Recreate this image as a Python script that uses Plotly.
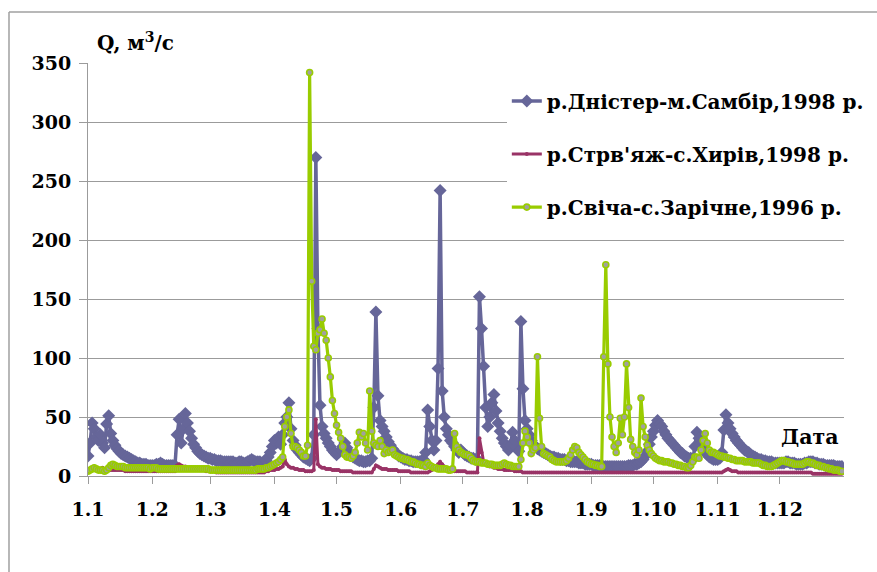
import plotly.graph_objects as go

# ---------------- data ----------------
MONTH_LABELS = ["1.1", "1.2", "1.3", "1.4", "1.5", "1.6",
                "1.7", "1.8", "1.9", "1.10", "1.11", "1.12"]
MONTH_START_DAY = [0, 31, 59, 90, 120, 151, 181, 212, 243, 273, 304, 334]
Y_TICKS = [0, 50, 100, 150, 200, 250, 300, 350]

NAME_DNISTER = "р.Дністер-м.Самбір,1998 р."
NAME_STRVIAZH = "р.Стрв'яж-с.Хирів,1998 р."
NAME_SVICHA = "р.Свіча-с.Зарічне,1996 р."

# daily discharge, m3/s (Jan 1 .. Dec 31)
Q_DNISTER = [
    17, 28, 45, 40, 33, 30, 35, 28, 24, 44, 51, 36, 30, 26, 23, 21, 19, 18, 17, 16, 15, 14, 13, 12, 11, 11, 10, 10, 10, 9, 9,
    9, 9, 10, 10, 11, 10, 9, 9, 9, 9, 9, 9, 35, 48, 28, 40, 53, 45, 38, 32, 27, 24, 21, 19, 18, 17, 16, 15,
    15, 14, 14, 13, 13, 13, 12, 12, 12, 12, 12, 12, 11, 11, 12, 12, 11, 11, 12, 13, 14, 13, 12, 12, 12, 11, 12, 13, 16, 20, 25,
    30, 28, 33, 27, 35, 45, 50, 62, 40, 30, 26, 22, 20, 18, 16, 15, 14, 13, 15, 35, 270, 125, 60, 42, 36, 32, 28, 25, 22, 20,
    18, 20, 22, 25, 28, 24, 20, 18, 16, 15, 14, 13, 13, 12, 12, 13, 13, 15, 58, 139, 68, 47, 42, 38, 33, 29, 26, 23, 21, 19, 17,
    16, 15, 14, 14, 13, 13, 12, 12, 12, 12, 13, 14, 20, 56, 42, 30, 22, 30, 91, 242, 72, 50, 40, 35, 30, 28, 25, 22, 20, 22,
    20, 18, 17, 16, 15, 15, 14, 14, 152, 125, 93, 58, 42, 50, 62, 69, 55, 45, 38, 32, 28, 25, 22, 26, 37, 30, 24, 21, 131, 74, 47,
    40, 35, 30, 27, 25, 23, 22, 21, 20, 19, 18, 17, 16, 16, 15, 15, 14, 14, 14, 13, 13, 12, 12, 12, 12, 11, 11, 11, 10, 10, 10,
    10, 9, 9, 9, 9, 8, 8, 8, 8, 8, 8, 8, 8, 8, 8, 8, 8, 8, 9, 9, 9, 10, 10, 11, 12, 14, 17, 21, 27, 33,
    38, 43, 47, 44, 42, 38, 35, 32, 30, 28, 26, 24, 22, 20, 19, 17, 16, 15, 15, 14, 25, 37, 32, 27, 23, 20, 18, 16, 15, 14, 14,
    14, 15, 20, 39, 52, 45, 40, 36, 33, 30, 28, 26, 24, 22, 21, 20, 18, 17, 16, 15, 14, 14, 13, 13, 12, 12, 12, 11, 11, 11,
    11, 11, 11, 12, 12, 11, 11, 11, 10, 10, 10, 10, 11, 11, 12, 12, 12, 11, 11, 10, 10, 10, 9, 9, 9, 9, 9, 8, 8, 8, 8,
]

Q_STRVIAZH = [
    5, 6, 7, 8, 7, 6, 6, 7, 6, 6, 6, 5, 5, 5, 5, 5, 5, 5, 4, 4, 4, 4, 4, 4, 4, 4, 4, 4, 4, 4, 4,
    4, 4, 4, 4, 4, 4, 4, 4, 4, 4, 4, 4, 9, 10, 9, 8, 8, 7, 7, 6, 6, 6, 5, 5, 5, 5, 4, 4,
    4, 4, 4, 3, 3, 3, 3, 3, 3, 3, 3, 3, 3, 3, 3, 3, 3, 3, 3, 3, 3, 3, 3, 3, 3, 3, 3, 4, 4, 5, 5,
    5, 6, 6, 7, 8, 14, 10, 8, 7, 7, 6, 6, 5, 5, 5, 4, 4, 4, 4, 5, 48, 10, 8, 7, 7, 6, 6, 6, 5, 5,
    5, 5, 4, 4, 4, 4, 4, 4, 3, 3, 3, 3, 3, 3, 3, 3, 3, 3, 6, 9, 8, 7, 6, 6, 6, 5, 5, 5, 5, 5, 4,
    4, 4, 4, 4, 4, 3, 3, 3, 3, 3, 3, 3, 3, 3, 4, 5, 6, 8, 10, 12, 10, 8, 6, 5, 5, 4, 4, 4, 4, 4,
    4, 4, 3, 3, 3, 3, 3, 3, 32, 20, 12, 10, 9, 8, 8, 7, 7, 6, 6, 6, 5, 5, 5, 5, 5, 4, 4, 4, 4, 3, 3,
    3, 3, 3, 3, 3, 3, 3, 3, 3, 3, 3, 3, 3, 3, 3, 3, 3, 3, 3, 3, 3, 3, 3, 3, 3, 3, 3, 3, 3, 3, 3,
    3, 3, 3, 3, 3, 3, 3, 3, 3, 3, 3, 3, 3, 3, 3, 3, 3, 3, 3, 3, 3, 3, 3, 3, 3, 3, 3, 3, 3, 3,
    3, 3, 3, 3, 3, 3, 3, 3, 3, 3, 3, 3, 3, 3, 3, 3, 3, 3, 3, 3, 3, 3, 3, 3, 3, 3, 3, 3, 3, 3, 3,
    3, 3, 3, 4, 5, 6, 5, 4, 4, 4, 3, 3, 3, 3, 3, 3, 3, 3, 3, 3, 3, 3, 3, 3, 3, 3, 3, 3, 3, 3,
    3, 3, 3, 3, 3, 3, 3, 3, 3, 3, 3, 3, 3, 3, 3, 3, 2, 2, 2, 2, 2, 2, 2, 2, 2, 2, 2, 2, 2, 2, 2,
]

Q_SVICHA = [
    4, 5, 6, 7, 6, 5, 5, 5, 4, 5, 7, 9, 10, 9, 8, 8, 8, 8, 7, 7, 7, 7, 7, 7, 7, 7, 7, 7, 7, 7, 6,
    7, 7, 7, 6, 6, 6, 6, 6, 6, 6, 6, 6, 6, 6, 6, 6, 6, 6, 6, 6, 6, 6, 6, 6, 6, 6, 6, 6,
    5, 5, 5, 5, 5, 5, 5, 5, 5, 5, 5, 5, 5, 5, 5, 5, 5, 5, 5, 5, 5, 5, 5, 6, 6, 6, 6, 7, 7, 8, 9,
    10, 11, 12, 14, 16, 42, 50, 56, 36, 25, 25, 24, 22, 20, 17, 17, 26, 342, 165, 110, 107, 121, 124, 133, 121, 115, 100, 84, 64, 53,
    43, 37, 32, 25, 18, 16, 16, 15, 17, 20, 28, 37, 33, 36, 28, 22, 72, 38, 28, 26, 25, 30, 25, 19, 22, 20, 21, 22, 18, 17, 16,
    15, 15, 14, 14, 13, 12, 12, 11, 10, 10, 9, 9, 8, 11, 9, 8, 7, 7, 6, 6, 6, 6, 6, 5, 5, 6, 36, 25, 22, 20,
    19, 18, 18, 17, 15, 13, 12, 12, 12, 11, 11, 11, 10, 10, 10, 9, 9, 9, 9, 10, 11, 10, 9, 9, 8, 8, 8, 8, 14, 28, 38,
    33, 28, 19, 22, 24, 101, 49, 25, 19, 18, 17, 16, 14, 13, 12, 12, 12, 12, 12, 13, 15, 18, 22, 25, 24, 20, 18, 16, 14, 12, 11,
    10, 10, 9, 9, 8, 8, 101, 179, 95, 50, 33, 25, 20, 28, 49, 35, 50, 95, 58, 31, 25, 20, 18, 22, 66, 42, 33, 26, 22, 19,
    17, 15, 14, 13, 13, 12, 12, 12, 11, 11, 10, 10, 9, 9, 8, 8, 7, 7, 9, 12, 16, 16, 15, 22, 30, 36, 28, 22, 20, 20, 19,
    18, 17, 17, 16, 16, 15, 15, 14, 14, 13, 13, 13, 13, 12, 12, 12, 12, 11, 11, 11, 11, 10, 9, 9, 8, 8, 8, 9, 10, 11,
    12, 13, 13, 12, 12, 11, 11, 10, 10, 10, 10, 10, 11, 12, 12, 11, 11, 10, 9, 9, 8, 8, 7, 7, 6, 6, 5, 5, 5, 4, 4,
]

DAYS = list(range(len(Q_DNISTER)))

# ---------------- style ----------------
SERIF = "DejaVu Serif"
C_DNISTER = "#666699"
C_STRVIAZH = "#993366"
C_SVICHA = "#99CC00"
GRID = "#9b9b9b"

fig = go.Figure()

fig.add_trace(go.Scatter(
    x=DAYS, y=Q_DNISTER, name=NAME_DNISTER, mode="lines+markers",
    line=dict(color=C_DNISTER, width=3.5),
    marker=dict(symbol="diamond", size=10, color=C_DNISTER),
    legendgroup="a",
))
fig.add_trace(go.Scatter(
    x=DAYS, y=Q_STRVIAZH, name=NAME_STRVIAZH, mode="lines+markers",
    line=dict(color=C_STRVIAZH, width=3),
    marker=dict(symbol="circle", size=4, color=C_STRVIAZH),
    legendgroup="b",
))
fig.add_trace(go.Scatter(
    x=DAYS, y=Q_SVICHA, name=NAME_SVICHA, mode="lines+markers",
    line=dict(color=C_SVICHA, width=3.2),
    marker=dict(symbol="circle", size=6, color="#a0a0a0",
                line=dict(color=C_SVICHA, width=1.6)),
    legendgroup="c",
))

tick_font = dict(family=SERIF, size=19, color="black", weight="bold")

fig.update_layout(
    width=877, height=572,
    template="none",
    paper_bgcolor="white", plot_bgcolor="white",
    margin=dict(l=88, r=33, t=63, b=96, autoexpand=False),
    showlegend=True,
    legend=dict(
        x=0.554, y=0.955, xanchor="left", yanchor="top",
        bgcolor="white", borderwidth=0,
        font=dict(family=SERIF, size=20, color="black", weight="bold"),
        traceorder="grouped", tracegroupgap=24,
        itemclick=False,
    ),
    xaxis=dict(
        range=[0, 365], tickmode="array",
        tickvals=MONTH_START_DAY, ticktext=MONTH_LABELS,
        showgrid=False, zeroline=False,
        showline=True, linecolor=GRID, linewidth=1,
        ticks="outside", ticklen=7, tickcolor=GRID, tickwidth=1,
        tickfont=tick_font, ticklabelstandoff=9,
        automargin=False,
    ),
    yaxis=dict(
        range=[0, 350], tickmode="array", tickvals=Y_TICKS,
        showgrid=True, gridcolor=GRID, gridwidth=1,
        zeroline=False,
        showline=True, linecolor=GRID, linewidth=1,
        ticks="outside", ticklen=8, tickcolor=GRID, tickwidth=1,
        tickfont=tick_font, ticklabelstandoff=4,
        automargin=False,
    ),
    annotations=[
        dict(xref="paper", yref="paper", x=0.009, y=1.052,
             xanchor="left", yanchor="middle", showarrow=False,
             text="Q, м<sup>3</sup>/с",
             font=dict(family=SERIF, size=20, color="black", weight="bold")),
        dict(xref="paper", yref="paper", x=0.996, y=0.094,
             xanchor="right", yanchor="middle", showarrow=False,
             text="Дата",
             font=dict(family=SERIF, size=20.5, color="black", weight="bold")),
    ],
    shapes=[
        dict(type="line", xref="paper", yref="paper",
             x0=-0.1045, x1=1.1, y0=1.1235, y1=1.1235,
             line=dict(color="#a0a0a0", width=1.5)),
        dict(type="line", xref="paper", yref="paper",
             x0=-0.1045, x1=-0.1045, y0=1.1235, y1=-0.3,
             line=dict(color="#a0a0a0", width=1.5)),
    ],
)

fig.write_html(
    "out.html",
    config={"displayModeBar": False},
    post_script="document.body.style.margin='0px';document.body.style.overflow='hidden';",
)
